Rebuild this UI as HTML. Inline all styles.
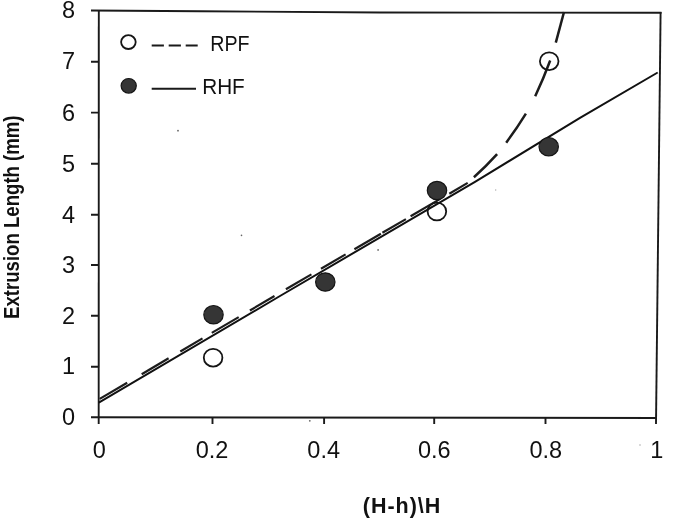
<!DOCTYPE html>
<html><head><meta charset="utf-8">
<style>
html,body{margin:0;padding:0;background:#fff;}
body{width:685px;height:528px;overflow:hidden;}
svg{display:block;will-change:transform;}
text{font-family:"Liberation Sans",sans-serif;fill:#111;}
</style></head>
<body>
<svg width="685" height="528" viewBox="0 0 685 528">
<rect width="685" height="528" fill="#fff"/>
<!-- frame -->
<g stroke="#1a1a1a" stroke-width="1.9" fill="none" stroke-linecap="butt">
  <path d="M91 10.5 L200 11.3 L380 12.5 L661.5 12.8"/>
  <path d="M98.8 10 L98.7 424"/>
  <path d="M660.6 12 L656 424"/>
  <path d="M91 417.3 L656.5 418"/>
  <!-- y ticks -->
  <path d="M91 366.7 H98.7 M91 315.8 H98.7 M91 265 H98.7 M91 214.8 H98.7 M91 163.8 H98.7 M91 112.6 H98.7 M91 61.7 H98.7"/>
  <!-- x ticks -->
  <path d="M212.5 417.5 V424 M324.1 417.6 V424 M434.2 417.7 V424 M545.5 417.9 V424"/>
</g>
<!-- y labels -->
<g font-size="23.5" text-anchor="end">
  <text x="75.2" y="424.9">0</text>
  <text x="75.2" y="374.3">1</text>
  <text x="75.2" y="323.8">2</text>
  <text x="75.2" y="273.3">3</text>
  <text x="75.2" y="222.7">4</text>
  <text x="75.2" y="172.1">5</text>
  <text x="75.2" y="120.8">6</text>
  <text x="75.2" y="69.1">7</text>
  <text x="75.2" y="17.5">8</text>
</g>
<!-- x labels -->
<g font-size="23.5" text-anchor="middle">
  <text x="99.3" y="457.6">0</text>
  <text x="212.1" y="457.6">0.2</text>
  <text x="323.7" y="457.6">0.4</text>
  <text x="434.3" y="457.6">0.6</text>
  <text x="545.8" y="457.6">0.8</text>
  <text x="656.8" y="457.6">1</text>
</g>
<!-- axis titles -->
<text x="401.6" y="512.6" font-size="21.5" font-weight="bold" text-anchor="middle" textLength="77.5" lengthAdjust="spacing">(H-h)\H</text>
<text transform="translate(18.6 217.2) rotate(-90)" font-size="21.2" font-weight="bold" text-anchor="middle" textLength="203.5" lengthAdjust="spacingAndGlyphs">Extrusion Length (mm)</text>

<!-- solid RHF line -->
<path d="M98.8 402.6 L280 296.0 L475 181.8 L580 117.9 L657.7 72.5" stroke="#111" stroke-width="2" fill="none"/>
<!-- dashed RPF line -->
<g stroke="#1c1c1c" stroke-width="2.2" fill="none" stroke-linecap="butt">
  <path d="M99.7 398.9 L127.2 382.7"/>
  <path d="M141.7 374.2 L168.6 358.3"/>
  <path d="M180.3 351.5 L202.5 338.4"/>
  <path d="M211.8 332.9 L238.7 317.1"/>
  <path d="M249.9 310.5 L274.5 296.0"/>
  <path d="M285.9 289.3 L311.4 274.4"/>
  <path d="M321 268.8 L345.6 254.4"/>
  <path d="M354.4 249.2 L380.9 233.7"/>
  <path d="M382.4 232.8 L405.9 219.1"/>
  <path d="M410.6 216.3 L439.4 199.4"/>
  <path d="M449.3 193.7 L467.7 182.9"/>
  <path d="M473.9 177.3 Q486 166.5 497.1 154.2" stroke-width="2.5"/>
  <path d="M506.2 142.7 Q516.5 128.8 525.9 113.6" stroke-width="2.5"/>
  <path d="M535.2 96.3 Q543.3 79.0 550.2 60.5" stroke-width="2.5"/>
  <path d="M555.8 42.6 L564 12" stroke-width="2.5"/>
</g>
<!-- RHF filled markers -->
<g fill="#353535" stroke="#151515" stroke-width="1.2">
  <ellipse cx="213.5" cy="314.7" rx="9.7" ry="9.2"/>
  <ellipse cx="325.3" cy="282" rx="9.7" ry="9.2"/>
  <ellipse cx="437" cy="190.5" rx="9.7" ry="9.2"/>
  <ellipse cx="548.7" cy="146.7" rx="9.7" ry="9.2"/>
</g>
<!-- RPF open markers -->
<g fill="none" stroke="#151515" stroke-width="1.8">
  <ellipse cx="213.1" cy="357.7" rx="9.3" ry="8.9"/>
  <ellipse cx="436.9" cy="211.5" rx="9.3" ry="8.9"/>
  <ellipse cx="549.2" cy="61.2" rx="9.3" ry="8.9"/>
</g>

<!-- scan specks -->
<g fill="#666">
  <circle cx="178" cy="130.7" r="0.9"/>
  <circle cx="241.5" cy="235.4" r="0.8"/>
  <circle cx="378.1" cy="249.9" r="0.9"/>
  <circle cx="309.8" cy="420.8" r="0.9"/>
  <circle cx="495.7" cy="190" r="0.7" fill="#aaa"/>
  <circle cx="640" cy="445" r="0.8" fill="#aaa"/>
</g>
<!-- legend -->
<ellipse cx="128.4" cy="42.1" rx="7.3" ry="6.9" fill="none" stroke="#151515" stroke-width="1.8"/>
<ellipse cx="128.7" cy="85.8" rx="7.6" ry="7.3" fill="#353535" stroke="#151515" stroke-width="1.2"/>
<path d="M151.7 45.4 H197.7" stroke="#1a1a1a" stroke-width="2" stroke-dasharray="12.2 4.8" fill="none"/>
<path d="M151.7 88.8 H196" stroke="#1a1a1a" stroke-width="2" fill="none"/>
<text x="210.3" y="51" font-size="22.4" textLength="39.3" lengthAdjust="spacingAndGlyphs">RPF</text>
<text x="202.2" y="94.4" font-size="22.4" textLength="42.6" lengthAdjust="spacingAndGlyphs">RHF</text>
</svg>
</body></html>
